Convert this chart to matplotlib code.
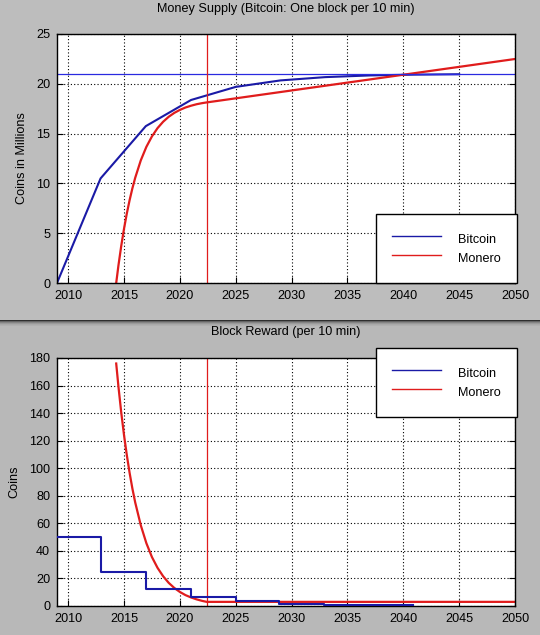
import matplotlib
matplotlib.use("Agg")
import matplotlib.pyplot as plt
from matplotlib.patches import Rectangle
import numpy as np

# Bitcoin (halvings every ~4 years)
btc_supply_year = [2009.0, 2012.9, 2016.95, 2021.0, 2025.0, 2029.0, 2033.0, 2037.0, 2041.0, 2045.0]
btc_supply = [0.0, 10.5, 15.75, 18.375, 19.69, 20.34, 20.67, 20.84, 20.92, 20.96]
btc_reward_year = [2009.0, 2012.9, 2016.95, 2021.0, 2025.0, 2028.9, 2032.9, 2036.9, 2040.9]
btc_reward = [50.0, 25.0, 12.5, 6.25, 3.4, 1.56, 0.78, 0.39, 0.39]

# Monero
xmr_year = [2014.3, 2014.5, 2014.75, 2015.0, 2015.25, 2015.5, 2015.75, 2016.0, 2016.5,
            2017.0, 2017.5, 2018.0, 2018.5, 2019.0, 2019.5, 2020.0, 2020.5, 2021.0,
            2021.5, 2022.0, 2022.4, 2030.0, 2040.0, 2050.0]
xmr_supply = [0.0, 1.76, 3.72, 5.45, 6.98, 8.32, 9.51, 10.56, 12.31,
              13.67, 14.72, 15.55, 16.19, 16.69, 17.08, 17.38, 17.62, 17.80,
              17.95, 18.06, 18.13, 19.33, 20.91, 22.49]
xmr_reward = [176.0, 159.3, 140.5, 124.0, 109.5, 96.6, 85.2, 75.2, 58.6,
              45.6, 35.5, 27.7, 21.6, 16.8, 13.1, 10.2, 7.9, 6.2,
              4.8, 3.7, 3.0, 3.0, 3.0, 3.0]

BTC_CAP = 21.0
NOW = 2022.4

BLUE = "#1a1aa6"
RED = "#e01c1c"
BG = "#b8b8b8"

plt.rcParams["font.family"] = ["Liberation Sans", "DejaVu Sans"]
plt.rcParams["font.size"] = 9.1

W, H = 540, 635
fig = plt.figure(figsize=(W / 100, H / 100), dpi=100, facecolor=BG)

LEGEND_KW = dict(frameon=True, fancybox=False, framealpha=1, edgecolor="black",
                 borderpad=1.25, labelspacing=0.0, handlelength=3.9, handleheight=1.9,
                 handletextpad=1.35, borderaxespad=0)


def px_box(left, top, right, bottom):
    return [left / W, 1 - bottom / H, (right - left) / W, (bottom - top) / H]


def style(ax, ylim, yticks):
    ax.set_xlim(2009, 2050)
    ax.set_ylim(*ylim)
    ax.set_xticks(np.arange(2010, 2051, 5))
    ax.set_yticks(yticks)
    ax.grid(True, color="black", linestyle=(0, (1, 2)), linewidth=0.8)
    ax.tick_params(direction="in", length=4, top=False, right=True, pad=5, width=0.8)
    for s in ax.spines.values():
        s.set_linewidth(1.0)
        s.set_color("black")


def thin_legend(leg):
    leg.get_frame().set_linewidth(1.0)
    for line in leg.get_lines():
        line.set_linewidth(1.0)


# separator between the two windows
fig.add_artist(Rectangle((0, 1 - 320 / H), 1, 320 / H, transform=fig.transFigure,
                         facecolor="#bdbdbd", edgecolor="none", zorder=-5))
for i, a in enumerate([0.75, 0.45, 0.28, 0.16, 0.08, 0.04]):
    fig.add_artist(Rectangle((0, 1 - (321 + i) / H), 1, 1 / H, transform=fig.transFigure,
                             facecolor="black", alpha=a, edgecolor="none", zorder=-4))

# top: money supply
ax1 = fig.add_axes(px_box(57, 34, 515, 283))
style(ax1, (0, 25), np.arange(0, 26, 5))
ax1.plot(btc_supply_year, btc_supply, color=BLUE, linewidth=1.5, label="Bitcoin")
ax1.plot(xmr_year, xmr_supply, color=RED, linewidth=1.6, label="Monero")
ax1.axhline(BTC_CAP, color="#2a2ae0", linewidth=0.9)
ax1.axvline(NOW, color=RED, linewidth=0.9)
ax1.set_ylabel("Coins in Millions", labelpad=6)
fig.text(286 / W, 1 - 9 / H, "Money Supply (Bitcoin: One block per 10 min)",
         ha="center", va="center")
thin_legend(ax1.legend(loc="lower right", bbox_to_anchor=(1 + 2 / 458, 0), **LEGEND_KW))

# bottom: block reward
ax2 = fig.add_axes(px_box(57, 358, 515, 606))
style(ax2, (0, 180), np.arange(0, 181, 20))
ax2.step(btc_reward_year, btc_reward, where="post", color=BLUE, linewidth=1.5,
         label="Bitcoin", zorder=3)
ax2.plot(xmr_year, xmr_reward, color=RED, linewidth=1.6, label="Monero", zorder=2)
ax2.axvline(NOW, color=RED, linewidth=0.9)
ax2.set_ylabel("Coins", labelpad=6)
fig.text(286 / W, 1 - 332 / H, "Block Reward (per 10 min)", ha="center", va="center")
thin_legend(ax2.legend(loc="upper right", bbox_to_anchor=(1 + 2 / 458, 1 + 10 / 248),
                       **LEGEND_KW))

fig.savefig("out.png", dpi=100, facecolor=BG)
